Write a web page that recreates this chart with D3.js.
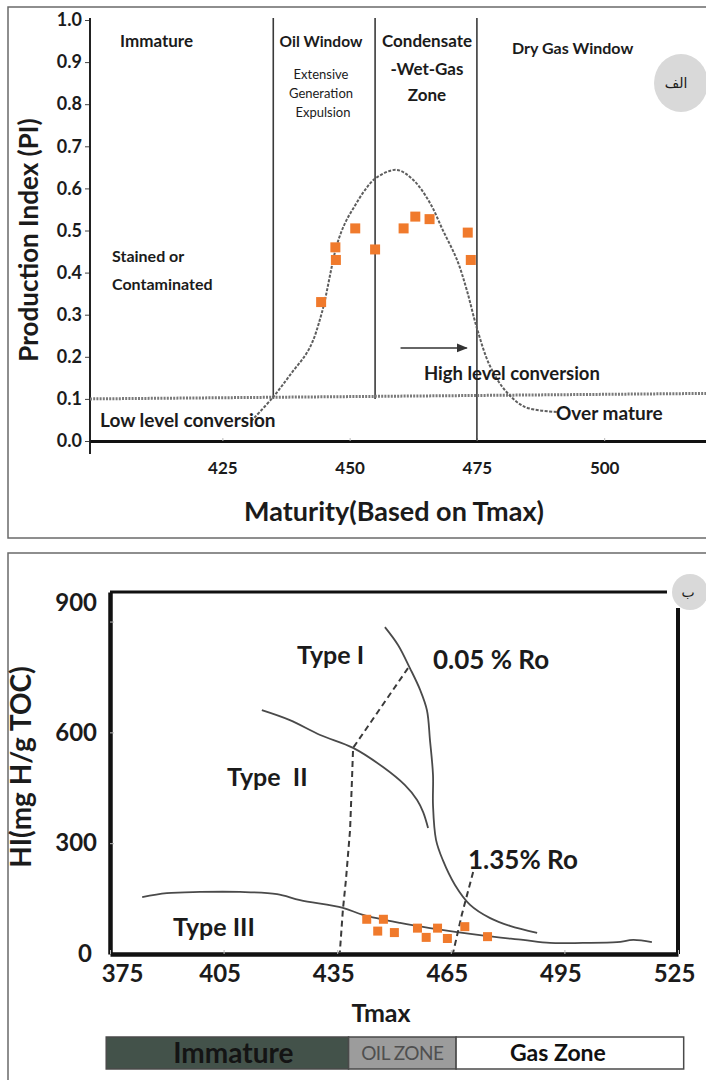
<!DOCTYPE html>
<html>
<head>
<meta charset="utf-8">
<script src="https://cdn.jsdelivr.net/npm/d3@7"></script>
<style>
  body { margin: 0; background: #fff; }
  svg text { font-family: Lato, "Open Sans", sans-serif; fill: #1b1b1b; }
</style>
</head>
<body>
<svg id="chart" width="706" height="1080"></svg>
<script>
// ---- panel A (production index vs maturity) ----
const piTicks = [0, 0.1, 0.2, 0.3, 0.4, 0.5, 0.6, 0.7, 0.8, 0.9, 1.0];
const tmaxTicksA = [425, 450, 475, 500];
const zoneBounds = [435, 455, 475];
const piSampleT = [444.4, 447.2, 447.3, 451.1, 455.0, 460.6, 462.9, 465.7, 473.2, 473.8];
const piSample = [0.33, 0.46, 0.43, 0.505, 0.455, 0.505, 0.533, 0.527, 0.495, 0.43];
const trendT = [430.7, 434.8, 438.5, 442.1, 444.5, 447.5, 449.2, 451.0, 453.0, 455.2, 459.2, 462.5, 465.8, 468.3, 471.1, 473.0, 475.0, 477.5, 480.5, 484.4, 490.7];
const trendPI = [0.048, 0.102, 0.16, 0.22, 0.303, 0.466, 0.52, 0.558, 0.596, 0.625, 0.644, 0.62, 0.565, 0.501, 0.43, 0.359, 0.268, 0.18, 0.121, 0.081, 0.069];
const baseT = [399, 520];
const basePI = [0.1, 0.113];

// ---- panel B (HI vs Tmax) ----
const hiTicks = [0, 300, 600, 900];
const tmaxTicksB = [375, 405, 435, 465, 495, 525];
const type1T = [447.6, 451.1, 454.2, 456.9, 458.7, 459.5, 460.3, 460.3, 461.1, 462.9, 466.1, 470.1, 475.4, 480.6, 487.8];
const type1HI = [885, 836, 774, 715, 660, 579, 485, 403, 309, 254, 187, 133, 97, 76, 57];
const type2T = [415.1, 422.5, 430.5, 439.2, 447.1, 452.9, 456.1, 457.7, 459.0];
const type2HI = [660, 633, 593, 558, 506, 457, 417, 384, 341];
const type3T = [383.5, 390, 398.8, 409.3, 419.1, 425.2, 436.5, 441.8, 451.6, 459.5, 472.7, 484.1, 491.2, 499.9, 508.9, 513.2, 518.1];
const type3HI = [154, 165, 168, 168, 162, 146, 125, 106, 84, 70, 51, 38, 30, 30, 32, 38, 32];
const ro05T = [453.7, 439.2, 438.9, 438.4, 437.3, 436.5, 435.7];
const ro05HI = [774, 558, 471, 336, 200, 119, 5];
const ro135T = [470.9, 467.9, 465.6];
const ro135HI = [222, 106, 3];
const hiSampleT = [442.8, 447.2, 445.7, 450.1, 456.2, 458.5, 461.5, 464.1, 468.7, 474.7];
const hiSample = [94, 94, 62, 58, 70, 45, 70, 42, 74, 47];
const zoneNames = ["Immature", "OIL ZONE", "Gas Zone"];
const zoneFrom = [374, 438, 466.4];
const zoneTo = [438, 466.4, 526.5];

const svg = d3.select("#chart");
const orange = "#f07a2c";
const zip = (a, b) => a.map((v, i) => [v, b[i]]);

function label(g, x, y, txt, size, weight, anchor) {
  return g.append("text").attr("x", x).attr("y", y).attr("text-anchor", anchor || "start")
    .style("font-size", size + "px").style("font-weight", weight).text(txt);
}

// ================= panel A =================
const A = svg.append("g");
A.append("rect").attr("x", 8).attr("y", 7).attr("width", 720).attr("height", 531)
  .attr("fill", "none").attr("stroke", "#6a6a6a").attr("stroke-width", 1.5);

const xA = d3.scaleLinear().domain([399, 520]).range([90, 706]);
const yA = d3.scaleLinear().domain([0, 1]).range([441, 20]);

const yAxA = A.append("g").attr("transform", "translate(90,0)")
  .call(d3.axisLeft(yA).tickValues(piTicks).tickFormat(d3.format(".1f")).tickSize(5).tickPadding(3));
yAxA.select(".domain").remove();
yAxA.attr("font-family", null).attr("font-size", null);
yAxA.selectAll("text").style("font-size", "18px").style("font-weight", 700);
yAxA.selectAll("line").attr("stroke", "#444");
A.append("line").attr("x1", 90).attr("x2", 90).attr("y1", yA(1.005)).attr("y2", 454)
  .attr("stroke", "#222").attr("stroke-width", 2);

const xAxA = A.append("g").attr("transform", "translate(0,441)")
  .call(d3.axisBottom(xA).tickValues(tmaxTicksA).tickSizeInner(-3).tickSizeOuter(0).tickPadding(21));
xAxA.attr("font-family", null).attr("font-size", null);
xAxA.select(".domain").attr("stroke", "#111").attr("stroke-width", 3);
xAxA.selectAll("line").attr("stroke", "#bbb");
xAxA.selectAll("text").style("font-size", "17px").style("font-weight", 700);

// zone boundaries
A.selectAll(".zone").data(zoneBounds).enter().append("line")
  .attr("x1", d => xA(d)).attr("x2", d => xA(d))
  .attr("y1", yA(1.005)).attr("y2", (d, i) => i < 2 ? yA(0.1) : yA(0))
  .attr("stroke", "#3a3a3a").attr("stroke-width", 1.6);

// 0.1 dotted base line
A.append("path").datum(zip(baseT, basePI))
  .attr("d", d3.line().x(d => xA(d[0])).y(d => yA(d[1])))
  .attr("fill", "none").attr("stroke", "#7a7a7a").attr("stroke-width", 3).attr("stroke-dasharray", "2,1.2");

// dashed trend
A.append("path").datum(zip(trendT, trendPI))
  .attr("d", d3.line().curve(d3.curveCatmullRom).x(d => xA(d[0])).y(d => yA(d[1])))
  .attr("fill", "none").attr("stroke", "#5e5e5e").attr("stroke-width", 2).attr("stroke-dasharray", "3,1.5");

// samples
A.selectAll(".s").data(zip(piSampleT, piSample)).enter().append("rect")
  .attr("x", d => xA(d[0]) - 5).attr("y", d => yA(d[1]) - 5)
  .attr("width", 10).attr("height", 10).attr("fill", orange);

// arrow
svg.append("defs").append("marker").attr("id", "ah").attr("viewBox", "0 0 10 10")
  .attr("refX", 9).attr("refY", 5).attr("markerWidth", 7).attr("markerHeight", 7).attr("orient", "auto")
  .append("path").attr("d", "M0,1L10,5L0,9Z").attr("fill", "#333");
A.append("line").attr("x1", xA(460)).attr("x2", xA(473)).attr("y1", yA(0.221)).attr("y2", yA(0.221))
  .attr("stroke", "#333").attr("stroke-width", 1.6).attr("marker-end", "url(#ah)");

label(A, 120, 47, "Immature", 17, 700);
label(A, 321, 47, "Oil Window", 15.5, 700, "middle");
label(A, 321, 79, "Extensive", 13, 400, "middle");
label(A, 321, 98, "Generation", 13, 400, "middle");
label(A, 323, 117, "Expulsion", 13, 400, "middle");
label(A, 427, 47, "Condensate", 17, 700, "middle");
label(A, 427, 75, "-Wet-Gas", 17, 700, "middle");
label(A, 427, 101, "Zone", 17, 700, "middle");
label(A, 512, 54, "Dry Gas Window", 16, 700);
label(A, 112, 262, "Stained or", 16, 700);
label(A, 112, 290, "Contaminated", 16, 700);
label(A, 100, 427, "Low level conversion", 19, 700);
label(A, 424, 380, "High level conversion", 18.5, 700);
label(A, 556, 420, "Over mature", 19, 700);
label(A, 394, 521, "Maturity(Based on Tmax)", 27, 700, "middle");
A.append("text").attr("transform", "translate(38,240) rotate(-90)").attr("text-anchor", "middle")
  .style("font-size", "26px").style("font-weight", 700).text("Production Index (PI)");

A.append("ellipse").attr("cx", 681).attr("cy", 83).attr("rx", 27).attr("ry", 29).attr("fill", "#d9d9d9");
A.append("text").attr("x", 676).attr("y", 88).attr("text-anchor", "middle")
  .style("font-family", "'DejaVu Sans'").style("font-size", "14px").text("الف");

// ================= panel B =================
const B = svg.append("g");
B.append("rect").attr("x", 8).attr("y", 553).attr("width", 720).attr("height", 540)
  .attr("fill", "none").attr("stroke", "#6a6a6a").attr("stroke-width", 1.5);

const xB = d3.scaleLinear().domain([375, 525]).range([110, 678]);
const yB = d3.scaleLinear().domain([0, 980]).range([954, 592]);

// plot box
B.append("line").attr("x1", xB(375)).attr("x2", 667).attr("y1", yB(980)).attr("y2", yB(980))
  .attr("stroke", "#111").attr("stroke-width", 3);
B.append("line").attr("x1", xB(525)).attr("x2", xB(525)).attr("y1", 608).attr("y2", yB(0))
  .attr("stroke", "#111").attr("stroke-width", 4);

const yAxB = B.append("g").attr("transform", `translate(${xB(375)},0)`)
  .call(d3.axisLeft(yB).tickValues(hiTicks).tickSizeInner(-4).tickSizeOuter(0).tickPadding(13));
yAxB.attr("font-family", null).attr("font-size", null);
yAxB.select(".domain").attr("stroke", "#111").attr("stroke-width", 4.5);
yAxB.selectAll("line").attr("stroke", "#bbb");
yAxB.selectAll("text").style("font-size", "24px").style("font-weight", 700)
  .attr("dy", d => d === 900 ? "-0.45em" : "0.32em")
  .attr("dx", d => d === 0 ? "-5" : "0");

const xAxB = B.append("g").attr("transform", `translate(0,${yB(0)})`)
  .call(d3.axisBottom(xB).tickValues(tmaxTicksB).tickSizeInner(-4).tickSizeOuter(0).tickPadding(11));
xAxB.attr("font-family", null).attr("font-size", null);
xAxB.select(".domain").attr("stroke", "#111").attr("stroke-width", 4.5);
xAxB.selectAll("line").attr("stroke", "#bbb");
xAxB.selectAll("text").style("font-size", "24px").style("font-weight", 700)
  .attr("dx", d => d === 375 ? "12" : "-4");

const lineB = d3.line().curve(d3.curveCatmullRom).x(d => xB(d[0])).y(d => yB(d[1]));
const lineStraight = d3.line().x(d => xB(d[0])).y(d => yB(d[1]));
[[type1T, type1HI], [type2T, type2HI], [type3T, type3HI]].forEach(([t, h]) => {
  B.append("path").datum(zip(t, h)).attr("d", lineB)
    .attr("fill", "none").attr("stroke", "#4a4a4a").attr("stroke-width", 1.8);
});
[[ro05T, ro05HI], [ro135T, ro135HI]].forEach(([t, h]) => {
  B.append("path").datum(zip(t, h)).attr("d", lineStraight)
    .attr("fill", "none").attr("stroke", "#3a3a3a").attr("stroke-width", 2).attr("stroke-dasharray", "6,4");
});

B.selectAll(".s").data(zip(hiSampleT, hiSample)).enter().append("rect")
  .attr("x", d => xB(d[0]) - 4.5).attr("y", d => yB(d[1]) - 4.5)
  .attr("width", 9).attr("height", 9).attr("fill", orange);

label(B, 297, 664, "Type I", 25, 700);
label(B, 433, 669, "0.05 % Ro", 26, 700).style("white-space", "pre");
label(B, 227, 786, "Type  II", 25, 700).style("white-space", "pre");
label(B, 468, 869, "1.35% Ro", 26, 700);
label(B, 173, 936, "Type III", 25, 700);
label(B, 381, 1022, "Tmax", 25, 700, "middle");
B.append("text").attr("transform", "translate(31,767) rotate(-90)").attr("text-anchor", "middle")
  .style("font-size", "28px").style("font-weight", 700).text("HI(mg H/g TOC)");

B.append("circle").attr("cx", 690).attr("cy", yB(980)).attr("r", 18).attr("fill", "#d9d9d9");
B.append("text").attr("x", 688).attr("y", yB(980) + 5).attr("text-anchor", "middle")
  .style("font-family", "'DejaVu Sans'").style("font-size", "14px").text("ب");

// zone bar
const zoneFill = ["#43524a", "#9c9c9c", "#ffffff"];
const zoneText = ["#141414", "#4f4f4f", "#111"];
const zoneSize = [28, 19, 23];
const zoneShift = [6, 0, -12];
const bar = B.append("g");
zoneNames.forEach((n, i) => {
  bar.append("rect").attr("x", xB(zoneFrom[i])).attr("y", 1037)
    .attr("width", xB(zoneTo[i]) - xB(zoneFrom[i])).attr("height", 32)
    .attr("fill", zoneFill[i]).attr("stroke", "#4a4a4a").attr("stroke-width", 1.5);
  bar.append("text").attr("x", (xB(zoneFrom[i]) + xB(zoneTo[i])) / 2 + zoneShift[i]).attr("y", 1053)
    .attr("dy", "0.35em").attr("text-anchor", "middle")
    .style("font-size", zoneSize[i] + "px").style("font-weight", i === 1 ? 400 : 700)
    .style("letter-spacing", i === 1 ? "-0.5px" : "0")
    .style("fill", zoneText[i]).text(n);
});
</script>
</body>
</html>
